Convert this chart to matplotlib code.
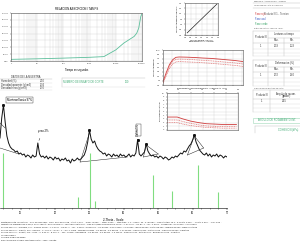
import numpy as np
import matplotlib.pyplot as plt
from matplotlib.lines import Line2D
from matplotlib.patches import Rectangle
from matplotlib.ticker import MultipleLocator, LogLocator, NullFormatter

plt.rcParams['font.family'] = ['Liberation Sans', 'DejaVu Sans']

W, H = 300, 250

# --- absorcion curve (top left)
abs_t = [1, 10, 100, 1000, 3500, 10000, 20000, 50000, 63000, 75000, 90000, 100000]
abs_v = [12, 16, 21, 27, 32, 81, 130, 179, 203, 240, 325, 345]

# --- small square chart
diag_x = [0.2, 2.9]
diag_y = [0.2, 2.9]

# --- chart 3 (curves rising then falling)
c3_x = [0, 0.4, 0.8, 1.2, 1.6, 2, 3, 4, 5, 6, 7, 8, 9, 10]
c3_y = [0.9, 3.5, 5.8, 7.2, 7.9, 8.0, 7.95, 7.85, 7.7, 7.6, 7.4, 7.2, 7.0, 6.7]
c3_d1 = [0.7, 3.1, 5.3, 6.7, 7.3, 7.4, 7.35, 7.2, 7.05, 6.9, 6.7, 6.5, 6.3, 6.0]
c3_d2 = [0.5, 2.6, 4.7, 6.0, 6.6, 6.7, 6.6, 6.5, 6.35, 6.2, 6.0, 5.8, 5.6, 5.3]

# --- chart 4 (step down)
c4_x = [0, 0.6, 1.3, 2, 3, 4, 5, 6, 7, 8, 8.8]
c4_y = [3.5, 3.5, 3.5, 3.0, 2.4, 2.0, 1.7, 1.6, 1.5, 1.5, 1.5]
c4_d1 = [2.7, 2.7, 2.7, 2.3, 1.8, 1.4, 1.1, 1.0, 0.9, 0.9, 0.9]
c4_d2 = [2.0, 2.0, 2.0, 1.6, 1.2, 0.9, 0.7, 0.6, 0.5, 0.5, 0.5]

# --- diffractogram
tt_start, tt_step = 4.0, 0.5
counts = [32, 52, 65, 48, 34, 27, 23, 21, 20, 18, 19, 16, 17, 15, 16, 13,
          15, 14, 12, 15, 13, 14, 27, 16, 13, 14, 12, 14, 11, 13, 12, 10,
          13, 11, 12, 9, 11, 10, 12, 9, 10, 7, 11, 9, 10, 12, 10, 11,
          13, 15, 20, 28, 40, 31, 27, 29, 24, 21, 19, 18, 16, 17, 14, 16,
          15, 13, 16, 14, 15, 13, 16, 14, 15, 13, 14, 16, 13, 15, 14, 17,
          30, 16, 14, 16, 18, 26, 19, 16, 14, 15, 13, 14, 12, 14, 13, 11,
          13, 12, 10, 11, 13, 12, 14, 13, 15, 17, 16, 19, 18, 21, 24, 26,
          30, 35, 28, 24, 20, 18, 16, 15, 17, 14, 16, 13, 15, 14, 16, 13,
          15, 14, 12, 14, 13]
tt = tt_start + tt_step * np.arange(len(counts))

# peak area segments (2theta, counts)
seg_tt = [[4.0, 5.5], [4.0, 9.5], [27.3, 30.0], [27.3, 41.0],
          [45.7, 46.5], [46.5, 50.0], [45.7, 50.0], [58.5, 60.5],
          [60.5, 63.2], [58.5, 63.2]]
seg_ct = [[47, 42], [22, 16], [8, 37], [8, 13],
          [13, 25], [25, 16], [13, 16], [15, 34],
          [34, 22], [15, 22]]
peak_marks_tt = [5.0, 30.0, 44.0, 46.5, 60.5]
peak_marks_ct = [65, 40, 30, 26, 35]

# stick pattern
stick_tt = [4.9, 26.7, 30.2, 31.7, 48.6, 54.1, 61.7, 67.3]
stick_h = [100, 20, 100, 13, 60, 31, 78, 29]


def box(x0, y0, x1, y1):
    return [x0 / W, 1 - y1 / H, (x1 - x0) / W, (y1 - y0) / H]


def ftext(x, y, s, **kw):
    kw.setdefault('fontsize', 1.8)
    kw.setdefault('va', 'center')
    fig.text(x / W, 1 - y / H, s, **kw)


def hline(y, x0, x1, color='#bbbbbb', lw=0.3):
    fig.add_artist(Line2D([x0 / W, x1 / W], [1 - y / H, 1 - y / H],
                          color=color, lw=lw, transform=fig.transFigure))


def vline(x, y0, y1, color='#bbbbbb', lw=0.3):
    fig.add_artist(Line2D([x / W, x / W], [1 - y0 / H, 1 - y1 / H],
                          color=color, lw=lw, transform=fig.transFigure))


def small_axes(ax):
    ax.tick_params(labelsize=1.6, length=1, width=0.3, pad=0.8,
                   colors='#444444')
    for sp in ax.spines.values():
        sp.set_linewidth(0.4)
        sp.set_color('#555555')


fig = plt.figure(figsize=(3, 2.5), dpi=100)

# ---------- chart 1 : relacion absorcion
ax1 = fig.add_axes(box(11, 13, 142, 61))
ax1.plot(abs_t, abs_v, color='#5cbf9b', lw=0.6)
ax1.set_xscale('log')
ax1.set_xlim(1, 100000)
ax1.set_ylim(0, 350)
ax1.yaxis.set_major_locator(MultipleLocator(50))
ax1.set_yticklabels(['%.2f' % v for v in ax1.get_yticks()])
ax1.xaxis.set_major_locator(LogLocator(base=10))
ax1.xaxis.set_minor_locator(LogLocator(base=10, subs=np.arange(2, 10)))
ax1.xaxis.set_minor_formatter(NullFormatter())
ax1.set_xticks([1, 10, 100, 1000, 10000, 100000])
ax1.set_xticklabels(['1', '10', '100', '1000', '10000', '100000'])
ax1.grid(True, which='both', color='#cccccc', lw=0.25)
small_axes(ax1)
ax1.tick_params(which='minor', length=0)
ax1.set_title('RELACION ABSORCION / TAMPS', fontsize=2, pad=2)
ax1.set_xlabel('Tiempo en segundos', fontsize=1.8, labelpad=1.5)

# ---------- chart 2 : square
ax2 = fig.add_axes(box(185, 3, 218, 35))
ax2.plot(diag_x, diag_y, color='#222222', lw=0.5)
ax2.set_xlim(0, 3)
ax2.set_ylim(0, 3)
ax2.xaxis.set_major_locator(MultipleLocator(0.5))
ax2.yaxis.set_major_locator(MultipleLocator(0.5))
ax2.grid(True, color='#cccccc', lw=0.25)
small_axes(ax2)
ax2.set_xlabel('Tension normal (kg/cm2)\nRESISTENCIA AL CORTE', fontsize=1.5,
               labelpad=1, linespacing=1.2)
ax2.set_ylabel('Tension tangencial (kg/cm2)', fontsize=1.5, labelpad=1)

# ---------- chart 3
ax3 = fig.add_axes(box(163, 50, 243, 85))
ax3.plot(c3_x, c3_y, color='#d03c3c', lw=0.6)
ax3.plot(c3_x, c3_d1, color='#e07070', lw=0.5, ls=(0, (1.5, 1)))
ax3.plot(c3_x, c3_d2, color='#e07070', lw=0.5, ls=(0, (1.5, 1)))
ax3.set_xlim(0, 10)
ax3.set_ylim(0, 10)
ax3.xaxis.set_major_locator(MultipleLocator(1.1))
ax3.yaxis.set_major_locator(MultipleLocator(1.25))
ax3.set_xticklabels([])
ax3.set_yticklabels(['%.1f' % v for v in ax3.get_yticks()])
ax3.grid(True, color='#cccccc', lw=0.25)
small_axes(ax3)
ax3.set_ylabel('Tension tangencial', fontsize=1.5, labelpad=1)

# ---------- chart 4
ax4 = fig.add_axes(box(167, 93, 238, 130))
ax4.plot(c4_x, c4_y, color='#d03c3c', lw=0.6)
ax4.plot(c4_x, c4_d1, color='#e07070', lw=0.5, ls=(0, (1.5, 1)))
ax4.plot(c4_x, c4_d2, color='#e07070', lw=0.5, ls=(0, (1.5, 1)))
ax4.set_xlim(0, 9)
ax4.set_ylim(0, 10)
ax4.xaxis.set_major_locator(MultipleLocator(1.5))
ax4.yaxis.set_major_locator(MultipleLocator(1))
ax4.xaxis.tick_top()
ax4.grid(True, color='#cccccc', lw=0.25)
small_axes(ax4)
ax4.set_title('DEFORMACION HORIZONTAL / VERTICAL (mm)', fontsize=1.6, pad=3)
ax4.set_ylabel('Deformacion vertical', fontsize=1.5, labelpad=1)

# ---------- diffractogram
axp = fig.add_axes(box(0, 98, 227, 170))
axp.plot(tt, counts, color='#111111', lw=0.7)
for sx, sy in zip(seg_tt, seg_ct):
    axp.plot(sx, sy, color='#222222', lw=0.35)
axp.plot(peak_marks_tt, peak_marks_ct, ls='none', marker='s', ms=1.1,
         color='#111111')
axp.set_xlim(4, 70)
axp.set_ylim(0, 72)
axp.axis('off')
axp.annotate('Montmorillonita 97%', xy=(5.0, 65), xytext=(6.0, 70),
             fontsize=2, va='center',
             bbox=dict(boxstyle='square,pad=0.2', fc='white', ec='#333333',
                       lw=0.3))
axp.annotate('yeso 2%', xy=(15.0, 27), xytext=(15.0, 37), fontsize=2,
             va='bottom', arrowprops=dict(arrowstyle='-', lw=0.3))
axp.annotate('Calcita 1%', xy=(44.0, 30), xytext=(43.6, 34), fontsize=1.8,
             rotation=90, va='bottom',
             bbox=dict(boxstyle='square,pad=0.15', fc='white', ec='#333333',
                       lw=0.3),
             arrowprops=dict(arrowstyle='-', lw=0.3))

axs = fig.add_axes(box(0, 150, 227, 208))
axs.patch.set_alpha(0)
axs.vlines(stick_tt, 0, stick_h, color='#80dd80', lw=0.8)
axs.set_xlim(4, 70)
axs.set_ylim(0, 105)
for s in ['top', 'right', 'left']:
    axs.spines[s].set_visible(False)
axs.spines['bottom'].set_linewidth(0.4)
axs.set_yticks([])
axs.xaxis.set_major_locator(MultipleLocator(10))
axs.xaxis.set_minor_locator(MultipleLocator(2.5))
axs.tick_params(labelsize=1.8, length=1.2, width=0.3, pad=1)
axs.tick_params(which='minor', length=0.7, width=0.3)
axs.set_xlabel('2-Theta - Scale', fontsize=2.2, labelpad=2)

# ---------- left table : datos de la muestra
ftext(26, 76.8, 'DATOS DE LA MUESTRA', ha='center', color='#333333')
hline(78.5, 0, 52)
sample_rows = ['Humedad (%)', 'Densidad aparente (g/cm3)',
               'Densidad seca (g/cm3)']
sample_vals = ['2.10', '1.94', '1.90']
for i, (r, v) in enumerate(zip(sample_rows, sample_vals)):
    ftext(1, 81 + 3.6 * i, r, color='#333333')
    ftext(40, 81 + 3.6 * i, v, color='#333333')
    hline(83 + 3.6 * i, 0, 52, color='#dddddd')

# green box
hline(78, 62, 145)
vline(62, 78, 87)
hline(87, 62, 145, color='#dddddd')
ftext(63, 82, 'NUMERO DE ENSAYO DE CORTE', color='#3aa870')
ftext(125, 82, '100', color='#3aa870')

# ---------- right tables
ftext(254, 1.5, 'METODO: ASTM D3080 - CORTE', color='#555555',
      fontsize=1.5)
hline(3.2, 253, 300)
ftext(254, 5.5, 'Velocidad de corte 0.5 mm/min',
      color='#555555', fontsize=1.5)
hline(8, 253, 300)
ftext(255, 14, 'Fase roja', color='#d03030')
ftext(264, 14, 'Probeta N 1 - Tension', color='#555555')
ftext(255, 19, 'Fase azul', color='#3050c0')
ftext(255, 24, 'Fase verde', color='#30a060')
ftext(254, 28.5, 'Datos de rotura - deform. (mm)',
      color='#555555', fontsize=1.5)

tables = [(31, 56, 'Lecturas a tiempo', ['1.19', '1.23']),
          (60, 86, 'Deformacion (%)', ['1.52', '1.60'])]
for top, bot, head, vals in tables:
    hline(top, 253, 300)
    hline(top + 6.5, 268, 300)
    hline(top + 12, 253, 300)
    hline(top + 17.5, 253, 300, color='#dddddd')
    hline(top + 21.5, 253, 300, color='#dddddd')
    hline(bot, 253, 300, color='#dddddd')
    vline(253, top, bot)
    vline(268, top, bot)
    vline(284, top + 6.5, bot)
    ftext(260.5, top + 6, 'Probeta N', ha='center', color='#333333')
    ftext(284, top + 3.3, head, ha='center', color='#333333')
    ftext(276, top + 9.3, 'Max.', ha='center', color='#333333')
    ftext(292, top + 9.3, 'Min.', ha='center', color='#333333')
    ftext(260.5, top + 15, '1', ha='center', color='#333333')
    ftext(276, top + 15, vals[0], ha='center', color='#333333')
    ftext(292, top + 15, vals[1], ha='center', color='#333333')

ftext(254, 88, 'Calculo de parametros de corte',
      color='#555555', fontsize=1.5)
hline(90, 253, 300)
hline(99, 253, 300)
hline(104, 253, 300, color='#dddddd')
hline(108, 253, 300, color='#dddddd')
hline(112, 253, 300, color='#dddddd')
vline(253, 90, 112)
vline(270, 90, 112)
ftext(261.5, 95, 'Probeta N', ha='center', color='#333333')
ftext(286, 93.5, 'Angulo de rozam.', ha='center', color='#333333')
ftext(286, 96.5, '(grados)', ha='center', color='#333333')
ftext(261.5, 101.5, '1', ha='center', color='#333333')
ftext(284, 101.5, '34.5', ha='center', color='#333333')

fig.add_artist(Rectangle((253 / W, 1 - 122.5 / H), 46.5 / W, 5 / H,
                         transform=fig.transFigure, fill=False,
                         ec='#9fd8b8', lw=0.4))
ftext(258, 120, 'ANGULO DE ROZAMIENTO INT.', color='#3aa870')
hline(126, 255, 300)
vline(255, 126, 133)
ftext(278, 129.5, 'COHESION (kPa)', color='#3aa870')

# ---------- bottom text
info = [
    'Montmorillonita (Muestra 1) - File: M-0145.raw - Type: 2Th/Th locked - Start: 4.000 ° - End: 70.000 ° - Step: 0.020 ° - '
    'Step time: 1. s - Temp.: 25 °C (Room) - Time Started: 15 s - 2-Theta: 4.000 ° - Theta: 2.000 ° - Chi: 0.00 °',
    'Operations: Background 1.000,1.000 | Import | 00-013-0135 (I) - Montmorillonite-15A - Ca0.2(Al,Mg)2Si4O10(OH)2 4H2O - '
    'Y: 97.00 % - d x by: 1. - WL: 1.5406 - Hexagonal - a 5.15000 - c 15.00000',
    '00-033-0311 (*) - Gypsum, syn - CaSO4 2H2O - Y: 2.00 % - d x by: 1. - WL: 1.5406 - Monoclinic - a 5.67960 - b 15.20200 - '
    'c 6.52200 - alpha 90.000 - beta 118.430 - gamma 90.000 - Base-centered',
    '00-005-0586 (*) - Calcite, syn - CaCO3 - Y: 1.00 % - d x by: 1. - WL: 1.5406 - Rhombo.H.axes - a 4.98900 - b 4.98900 - '
    'c 17.06200 - alpha 90.000 - beta 90.000 - gamma 120.000 - Primitive',
    '00-046-1045 (*) - Quartz, syn - SiO2 - Y: 0.50 % - d x by: 1. - WL: 1.5406 - Hexagonal - a 4.91344 - b 4.91344 - '
    'c 5.40524 - alpha 90.000 - beta 90.000 - gamma 120.000 - Primitive',
    'Leyenda fases',
    'Tamano medio de grano',
    'RELACION DE FASES: Montmorillonita - Yeso - Calcita',
]
for i, line in enumerate(info):
    ftext(1, 222 + 2.6 * i, line, color='#222222', fontsize=1.6)

fig.savefig('out.png', dpi=100)
